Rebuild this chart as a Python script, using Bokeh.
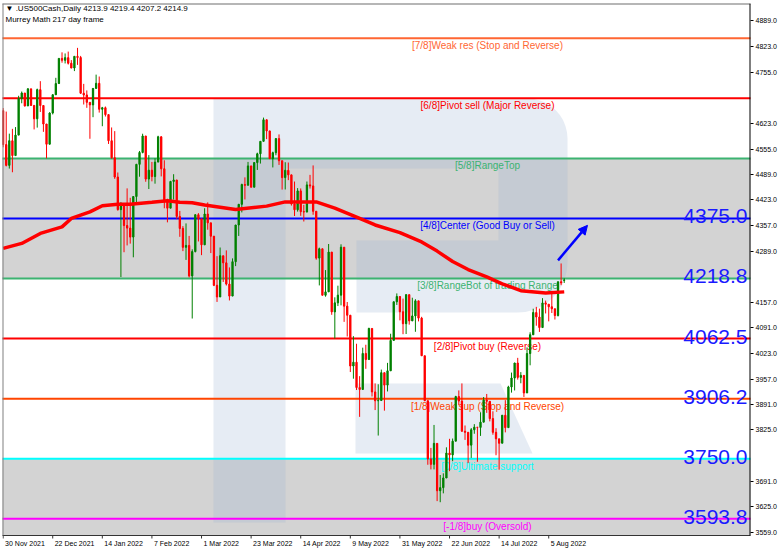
import math
from bokeh.plotting import figure
from bokeh.models import (Range1d, FixedTicker, ColumnDataSource, Label, Arrow,
                          NormalHead, NumeralTickFormatter)
from bokeh.core.properties import value
from bokeh.embed import file_html
from bokeh.resources import INLINE

# ---------------- data (daily bars, 30 Nov 2021 .. 12 Aug 2022) ----------------
opens = [4655.3, 4567.0, 4513.0, 4577.1, 4538.4, 4591.7, 4686.8, 4701.2, 4667.5, 4712.0,
         4669.0, 4634.1, 4709.9, 4668.7, 4620.6, 4568.0, 4649.2, 4696.6, 4725.8, 4791.2,
         4786.4, 4793.1, 4778.7, 4766.2, 4796.6, 4793.5, 4700.6, 4696.1, 4677.0, 4670.3,
         4713.1, 4726.4, 4659.0, 4662.9, 4645.0, 4577.1, 4532.8, 4482.7, 4397.9, 4410.1,
         4356.5, 4349.9, 4326.5, 4431.9, 4515.6, 4546.5, 4589.4, 4477.4, 4500.5, 4483.9,
         4521.5, 4587.2, 4504.1, 4418.6, 4401.7, 4471.1, 4475.0, 4380.3, 4348.9, 4300.0,
         4304.8, 4225.5, 4288.7, 4384.7, 4373.9, 4306.3, 4386.5, 4363.5, 4328.9, 4201.1,
         4170.7, 4277.9, 4259.5, 4204.3, 4173.1, 4262.5, 4357.9, 4411.7, 4463.1, 4461.2,
         4511.6, 4456.2, 4520.2, 4543.1, 4575.5, 4631.6, 4602.5, 4530.4, 4545.9, 4582.6,
         4525.1, 4481.2, 4500.2, 4488.3, 4412.5, 4397.5, 4446.6, 4392.6, 4391.7, 4462.2,
         4459.5, 4393.7, 4271.8, 4296.1, 4175.2, 4184.0, 4287.5, 4131.9, 4155.4, 4175.5,
         4300.2, 4146.9, 4123.3, 3991.2, 4001.1, 3935.2, 3930.1, 4023.9, 4008.0, 4088.9,
         3923.7, 3900.8, 3901.4, 3973.8, 3941.5, 3978.7, 4057.8, 4158.2, 4172.0, 4132.2,
         4101.2, 4176.8, 4108.5, 4121.4, 4160.7, 4115.8, 4017.8, 3900.9, 3749.6, 3735.5,
         3790.0, 3666.8, 3674.8, 3700.0, 3764.8, 3759.9, 3795.7, 3911.7, 3900.1, 3821.6,
         3818.8, 3785.4, 3825.3, 3832.0, 3831.4, 3845.1, 3902.6, 3899.4, 3854.4, 3818.8,
         3801.8, 3790.4, 3863.2, 3830.9, 3936.7, 3959.9, 3999.0, 3961.6, 3966.8, 3921.1,
         4023.6, 4072.4, 4130.3, 4118.6, 4091.2, 4155.2, 4151.9, 4145.2, 4140.1, 4122.5,
         4210.2, 4213.9]
highs = [4662.0, 4652.9, 4595.5, 4608.0, 4612.6, 4694.0, 4705.1, 4701.2, 4713.6, 4712.0,
         4669.0, 4712.6, 4732.0, 4668.7, 4620.6, 4651.1, 4697.7, 4740.7, 4791.5, 4807.0,
         4804.1, 4808.9, 4786.8, 4796.6, 4818.6, 4797.7, 4725.0, 4707.9, 4677.0, 4714.1,
         4749.0, 4744.1, 4665.1, 4666.0, 4645.0, 4611.6, 4602.1, 4494.5, 4417.4, 4411.0,
         4453.2, 4428.7, 4432.7, 4516.9, 4550.5, 4595.3, 4589.4, 4539.7, 4521.9, 4531.3,
         4590.0, 4588.9, 4526.3, 4426.2, 4472.8, 4490.0, 4475.0, 4394.6, 4355.0, 4362.1,
         4329.5, 4294.7, 4385.3, 4388.8, 4375.5, 4401.5, 4416.8, 4363.5, 4328.9, 4276.9,
         4299.4, 4277.9, 4291.9, 4247.6, 4271.1, 4358.0, 4412.7, 4465.4, 4481.8, 4522.0,
         4511.6, 4520.6, 4546.0, 4575.7, 4637.3, 4631.6, 4603.1, 4548.7, 4583.5, 4593.5,
         4525.1, 4521.2, 4520.4, 4488.3, 4471.0, 4453.9, 4453.0, 4410.3, 4471.0, 4488.3,
         4512.9, 4393.7, 4299.0, 4296.1, 4240.7, 4308.5, 4287.5, 4169.8, 4200.1, 4307.7,
         4300.2, 4157.7, 4123.3, 4068.8, 4049.1, 3964.8, 4038.9, 4046.5, 4090.7, 4088.9,
         3945.9, 3943.7, 3981.9, 3973.8, 3999.3, 4075.1, 4158.5, 4180.0, 4172.0, 4166.5,
         4177.5, 4176.8, 4168.8, 4164.9, 4160.7, 4119.1, 4017.8, 3900.9, 3778.2, 3837.9,
         3790.0, 3707.7, 3712.0, 3779.7, 3801.8, 3802.6, 3913.7, 3927.7, 3945.9, 3836.5,
         3818.8, 3829.8, 3840.0, 3832.2, 3870.9, 3910.6, 3918.5, 3899.4, 3873.4, 3829.4,
         3801.8, 3863.6, 3902.4, 3939.8, 3974.1, 3999.3, 4012.4, 3975.3, 3966.8, 4039.6,
         4078.9, 4140.2, 4145.0, 4140.5, 4167.7, 4161.3, 4151.9, 4186.6, 4140.1, 4211.0,
         4257.9, 4219.4]
lows = [4560.0, 4510.3, 4504.7, 4495.1, 4538.4, 4591.7, 4674.5, 4666.0, 4667.5, 4667.6,
        4606.5, 4611.2, 4651.9, 4600.2, 4531.1, 4568.0, 4645.5, 4696.6, 4725.8, 4780.0,
        4778.1, 4775.3, 4765.8, 4758.2, 4774.3, 4699.4, 4671.3, 4662.7, 4582.2, 4638.3,
        4713.1, 4650.3, 4614.8, 4640.0, 4568.7, 4530.2, 4477.9, 4395.3, 4222.6, 4287.1,
        4304.8, 4309.5, 4273.9, 4414.0, 4483.5, 4544.3, 4470.4, 4451.5, 4471.5, 4465.4,
        4521.5, 4484.3, 4401.4, 4364.8, 4401.7, 4424.0, 4373.0, 4327.2, 4290.0, 4267.1,
        4221.5, 4114.7, 4286.8, 4315.1, 4279.5, 4306.3, 4345.6, 4284.9, 4199.0, 4157.9,
        4170.7, 4209.8, 4200.5, 4161.7, 4173.1, 4251.0, 4329.4, 4390.6, 4424.3, 4461.2,
        4455.8, 4456.2, 4501.1, 4517.7, 4575.5, 4581.3, 4530.4, 4507.6, 4539.2, 4514.2,
        4450.0, 4450.3, 4474.6, 4408.4, 4381.3, 4392.7, 4381.8, 4367.0, 4390.6, 4452.7,
        4384.5, 4267.6, 4200.8, 4175.0, 4171.5, 4184.0, 4124.3, 4062.5, 4147.1, 4148.9,
        4106.0, 4067.9, 3975.5, 3958.2, 3928.8, 3858.9, 3930.1, 3983.9, 4008.0, 3911.9,
        3876.6, 3810.3, 3901.4, 3875.1, 3925.0, 3978.7, 4057.8, 4150.0, 4109.9, 4073.9,
        4074.4, 4098.7, 4108.5, 4080.2, 4107.2, 4017.2, 3900.2, 3734.3, 3722.3, 3722.3,
        3639.8, 3636.9, 3660.0, 3700.0, 3717.7, 3743.5, 3795.7, 3889.7, 3820.1, 3799.0,
        3738.7, 3752.1, 3815.0, 3742.1, 3809.4, 3845.1, 3869.3, 3847.2, 3812.5, 3759.1,
        3721.6, 3790.4, 3818.6, 3830.9, 3922.0, 3927.6, 3955.8, 3946.3, 3910.7, 3921.1,
        3993.0, 4072.4, 4096.0, 4079.8, 4091.2, 4127.9, 4107.3, 4129.0, 4112.1, 4120.0,
        4201.4, 4207.2]
closes = [4567.0, 4513.0, 4577.1, 4538.4, 4591.7, 4686.8, 4701.2, 4667.5, 4712.0, 4669.0,
          4634.1, 4709.9, 4668.7, 4620.6, 4568.0, 4649.2, 4696.6, 4725.8, 4791.2, 4786.4,
          4793.1, 4778.7, 4766.2, 4796.6, 4793.5, 4700.6, 4696.1, 4677.0, 4670.3, 4713.1,
          4726.4, 4659.0, 4662.9, 4645.0, 4577.1, 4532.8, 4482.7, 4397.9, 4410.1, 4356.5,
          4349.9, 4326.5, 4431.9, 4515.6, 4546.5, 4589.4, 4477.4, 4500.5, 4483.9, 4521.5,
          4587.2, 4504.1, 4418.6, 4401.7, 4471.1, 4475.0, 4380.3, 4348.9, 4300.0, 4304.8,
          4225.5, 4288.7, 4384.7, 4373.9, 4306.3, 4386.5, 4363.5, 4328.9, 4201.1, 4170.7,
          4277.9, 4259.5, 4204.3, 4173.1, 4262.5, 4357.9, 4411.7, 4463.1, 4461.2, 4511.6,
          4456.2, 4520.2, 4543.1, 4575.5, 4631.6, 4602.5, 4530.4, 4545.9, 4582.6, 4525.1,
          4481.2, 4500.2, 4488.3, 4412.5, 4397.5, 4446.6, 4392.6, 4391.7, 4462.2, 4459.5,
          4393.7, 4271.8, 4296.1, 4175.2, 4184.0, 4287.5, 4131.9, 4155.4, 4175.5, 4300.2,
          4146.9, 4123.3, 3991.2, 4001.1, 3935.2, 3930.1, 4023.9, 4008.0, 4088.9, 3923.7,
          3900.8, 3901.4, 3973.8, 3941.5, 3978.7, 4057.8, 4158.2, 4172.0, 4132.2, 4101.2,
          4176.8, 4108.5, 4121.4, 4160.7, 4115.8, 4017.8, 3900.9, 3749.6, 3735.5, 3790.0,
          3666.8, 3674.8, 3700.0, 3764.8, 3759.9, 3795.7, 3911.7, 3900.1, 3821.6, 3818.8,
          3785.4, 3825.3, 3832.0, 3831.4, 3845.1, 3902.6, 3899.4, 3854.4, 3818.8, 3801.8,
          3790.4, 3863.2, 3830.9, 3936.7, 3959.9, 3999.0, 3961.6, 3966.8, 3921.1, 4023.6,
          4072.4, 4130.3, 4118.6, 4091.2, 4155.2, 4151.9, 4145.2, 4140.1, 4122.5, 4210.2,
          4207.3, 4214.9]

date_labels = ["30 Nov 2021", "22 Dec 2021", "14 Jan 2022", "7 Feb 2022", "1 Mar 2022",
               "23 Mar 2022", "14 Apr 2022", "9 May 2022", "31 May 2022", "22 Jun 2022",
               "14 Jul 2022", "5 Aug 2022"]
bars_per_label = 16

# moving average (bar index, value)
ma_idx = [0, 6, 12, 19, 22, 28, 32, 37, 41, 48, 53, 57, 61, 65, 75, 85, 91, 101, 107,
          115, 120, 128, 135, 140, 145, 150, 156, 161, 167, 175, 181]
ma_val = [4297, 4310, 4336, 4353, 4375, 4392, 4408, 4412, 4412, 4417, 4421, 4417, 4416,
          4410, 4398, 4407, 4418, 4418, 4402, 4375, 4358, 4338, 4314, 4290, 4263, 4242,
          4223, 4205, 4187, 4181, 4184]

levels = [4843.8, 4687.5, 4531.2, 4375.0, 4218.8, 4062.5, 3906.2, 3750.0, 3593.8]
level_names = ["[7/8]Weak res (Stop and Reverse)", "[6/8]Pivot sell (Major Reverse)",
               "[5/8]RangeTop", "[4/8]Center (Good Buy or Sell)",
               "[3/8]RangeBot of trading Range", "[2/8]Pivot buy (Reverse)",
               "[1/8]Weak sup (Stop and Reverse)", "[0/8]Ultimate support",
               "[-1/8]buy (Oversold)"]
level_colors = ["#ff6633", "#ff0000", "#3cb371", "#0000ff", "#3cb371", "#ff0000",
                "#ff4500", "#00ffff", "#ff00ff"]
big_levels = [4375.0, 4218.8, 4062.5, 3906.2, 3750.0, 3593.8]
zone_top = [4531.2, 3750.0]
zone_bottom = [4218.8, 3437.5]
current_price = 4214.9
price_ticks = [4889.0, 4823.0, 4755.0, 4623.0, 4555.0, 4489.0, 4423.0, 4357.0, 4289.0,
               4157.0, 4091.0, 4023.0, 3957.0, 3891.0, 3825.0, 3691.0, 3625.0, 3559.0]
arrow_x = [179.0, 188.5]
arrow_y = [4266.0, 4357.0]
header1 = "\u25bc .US500Cash,Daily  4213.9 4219.4 4207.2 4214.9"
header2 = "Murrey Math 217 day frame"

# ---------------- layout ----------------
# the plotting frame runs to the bottom of the canvas; the chart's own bottom
# border, date ticks and date labels are drawn inside it below CHART_B.
FL, FT, FW, FH = 2, 3, 748, 550
CHART_B = 535                 # pixel row of the chart's bottom border
X0, X1 = -0.2, 241.09
Y1 = 4934.0
PX = 2.6008                   # price units per pixel
Y0 = Y1 - FH * PX
XPX = (X1 - X0) / FW          # bar units per pixel


def px_x(px):
    return X0 + (px - FL) * XPX


def px_y(py):
    return Y1 - (py - FT) * PX


p = figure(frame_width=FW, frame_height=FH, x_range=Range1d(X0, X1), y_range=Range1d(Y0, Y1),
           output_backend="svg", toolbar_location=None, y_axis_location="right",
           x_axis_location=None,
           min_border_left=FL, min_border_top=FT, min_border_right=32, min_border_bottom=0,
           background_fill_color="white", border_fill_color="white",
           margin=(0, 0, 0, 0))
p.grid.visible = False
p.outline_line_color = None

# right axis
ya = p.yaxis[0]
ya.ticker = FixedTicker(ticks=price_ticks)
ya.formatter = NumeralTickFormatter(format="0.0")
ya.minor_tick_line_color = None
ya.major_tick_in = 0
ya.major_tick_out = 3
ya.major_label_standoff = 2
ya.major_label_text_font = "Liberation Sans"
ya.major_label_text_font_size = "7px"
ya.major_label_text_color = "black"
ya.axis_line_color = None
ya.major_tick_line_color = "black"

y_bot = px_y(CHART_B)

# gray zones
p.quad(left=X0 - 5, right=X1 + 5, bottom=[max(b, y_bot) for b in zone_bottom], top=zone_top,
       fill_color="#d3d3d3", line_color=None)

# watermark logo (decoration, drawn in pixel space)
def arc(cx, cy, r, a0, a1, n=10):
    return [(cx + r * math.cos(math.radians(a0 + (a1 - a0) * k / n)),
             cy - r * math.sin(math.radians(a0 + (a1 - a0) * k / n))) for k in range(n + 1)]

bowl = [(213, 98)] + arc(527, 138, 40, 90, 0) + arc(517, 262, 50, 0, -90) + \
       [(356, 312), (356, 240), (498, 240), (498, 168), (285, 168), (285, 522), (213, 522)]
leg = [(355, 383), (500, 383), (532, 453), (355, 453)]
p.patches(xs=[[px_x(a) for a, b in s] for s in (bowl, leg)],
          ys=[[px_y(b) for a, b in s] for s in (bowl, leg)],
          fill_color="#9bb3d3", fill_alpha=0.25, line_color=None)

# Murrey lines and texts
for lv, col in zip(levels, level_colors):
    p.line([X0 - 5, X1 + 5], [lv, lv], line_color=col, line_width=2)
p.text(x=[px_x(487)] * len(levels), y=[lv - 2 * PX for lv in levels], text=level_names,
       text_color=level_colors, text_font=value("Liberation Sans"), text_font_size="10px",
       text_align="center", text_baseline="top")
p.text(x=[px_x(747)] * len(big_levels), y=[lv + 2 * PX for lv in big_levels],
       text=[f"{lv:.1f}" for lv in big_levels], text_color="#1a1aff",
       text_font=value("Liberation Sans"), text_font_size="21px",
       text_align="right", text_baseline="alphabetic")

# candles
idx = list(range(len(closes)))
cols = ["#008000" if c >= o else "#ff0000" for o, c in zip(opens, closes)]
src = ColumnDataSource(dict(x=idx, o=opens, h=highs, l=lows, c=closes,
                            top=[max(o, c) for o, c in zip(opens, closes)],
                            bot=[min(o, c) for o, c in zip(opens, closes)], col=cols))
p.segment(x0="x", y0="l", x1="x", y1="h", source=src, line_color="col", line_width=1)
p.vbar(x="x", top="top", bottom="bot", width=0.42, source=src, fill_color="col",
       line_color="col", line_width=1)

# moving average
p.line(ma_idx, ma_val, line_color="#ff0000", line_width=3.5)

# forecast arrow
p.add_layout(Arrow(x_start=arrow_x[0], y_start=arrow_y[0], x_end=arrow_x[1], y_end=arrow_y[1],
                   line_color="#0000ff", line_width=2.5,
                   end=NormalHead(size=9, fill_color="#0000ff", line_color="#0000ff")))

# header
p.text(x=[px_x(5), px_x(5)], y=[px_y(8), px_y(19)], text=[header1, header2],
       text_font=value("Liberation Sans"), text_font_size="8px", text_color="black",
       text_baseline="middle", text_align="left")

# white strip below the chart, its borders, date ticks and labels
p.quad(left=[X0 - 5], right=[X1 + 5], bottom=[Y0 - 50], top=[y_bot],
       fill_color="white", line_color=None)
p.line([X0 - 5, X1 + 5], [y_bot, y_bot], line_color="#333333", line_width=1)
p.line([X0 - 5, X1 + 5], [Y1, Y1], line_color="#6e6e6e", line_width=2)
p.line([X0, X0], [y_bot, Y1], line_color="#808080", line_width=2)
p.line([X1, X1], [y_bot, Y1], line_color="black", line_width=2)
tick_idx = [i * bars_per_label for i in range(len(date_labels))]
p.segment(x0=tick_idx, x1=tick_idx, y0=[y_bot] * len(tick_idx),
          y1=[y_bot - 3 * PX] * len(tick_idx), line_color="#333333", line_width=1)
p.text(x=[t + 2 * XPX for t in tick_idx], y=[px_y(543)] * len(tick_idx), text=date_labels,
       text_font=value("Liberation Sans"), text_font_size="7px", text_color="black",
       text_baseline="middle", text_align="left")

# price boxes on the right scale
p.add_layout(Label(x=px_x(751), y=current_price, text=f"{current_price:.1f}",
                   text_align="left", text_baseline="middle", text_font_size="7px",
                   text_font="Liberation Sans", text_color="white",
                   background_fill_color="black",
                   padding=dict(left=4, right=4, top=1, bottom=1)))
for lv, col in zip(levels, level_colors):
    p.add_layout(Label(x=px_x(751), y=lv, text=f"{lv:.1f}", text_align="left",
                       text_baseline="middle", text_font_size="7px",
                       text_font="Liberation Sans", text_color="white",
                       background_fill_color=col,
                       padding=dict(left=4, right=4, top=1, bottom=1)))

open("out.html", "w").write(file_html(p, INLINE))
